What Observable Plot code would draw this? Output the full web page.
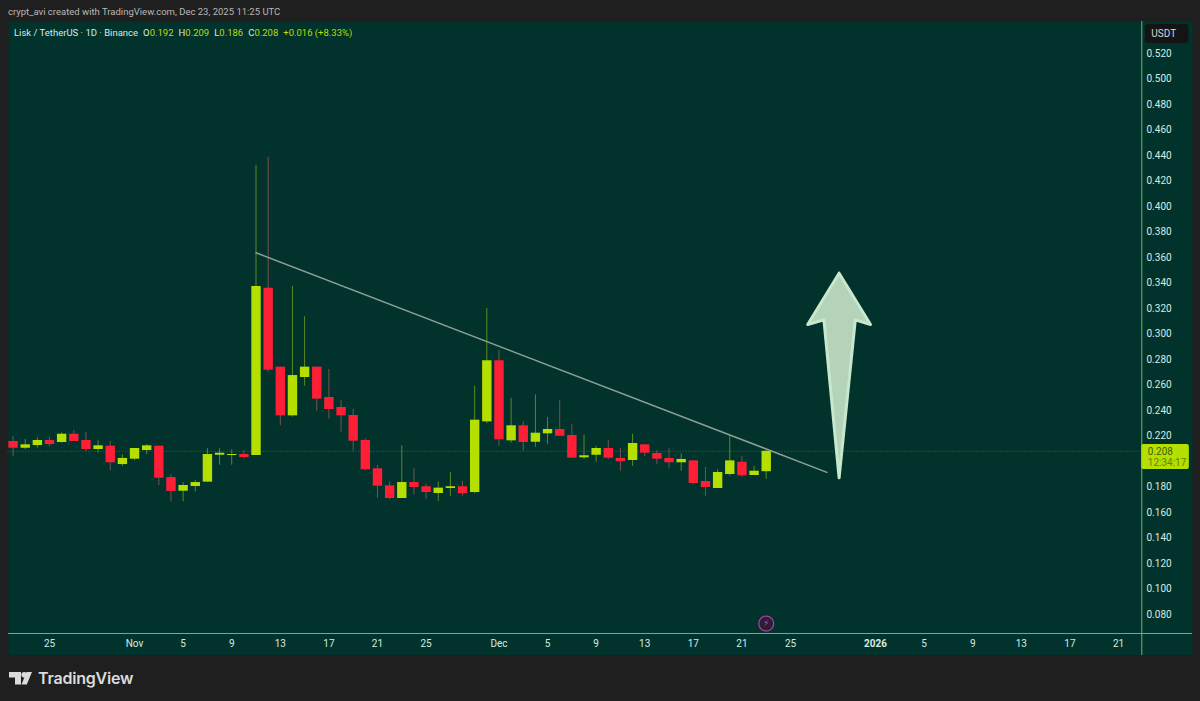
<!DOCTYPE html>
<html>
<head>
<meta charset="utf-8">
<script src="https://cdn.jsdelivr.net/npm/d3@7"></script>
<script src="https://cdn.jsdelivr.net/npm/@observablehq/plot@0.6"></script>
<style>
html,body{margin:0;padding:0;background:#1f1f1f;width:1200px;height:701px;overflow:hidden;font-family:Roboto,sans-serif}
#wrap{position:relative;width:1200px;height:701px}
#head{height:21px;line-height:24px;padding-left:8px;font-size:9.5px;color:#b8b8b8;box-sizing:border-box}
#legend{position:absolute;left:14px;top:27px;font-size:9.5px;line-height:12px;color:#d6ebe0;white-space:nowrap}
#legend span{margin-left:5px}
#legend b{font-weight:400;color:#b5df00}
#foot{position:absolute;left:9px;top:668px;display:flex;align-items:center;color:#dcdcdc;font:600 16px Inter,sans-serif;letter-spacing:-.2px}
#foot svg{margin-right:6px}
svg.plot{display:block}
</style>
</head>
<body>
<div id="wrap">
<div id="head">crypt_avi created with TradingView.com, Dec 23, 2025 11:25 UTC</div>
<div id="chart"></div>
<div id="legend">Lisk / TetherUS · 1D · Binance<span>O<b>0.192</b></span><span>H<b>0.209</b></span><span>L<b>0.186</b></span><span>C<b>0.208</b></span><span><b>+0.016 (+8.33%)</b></span></div>
<div id="foot"><svg width="23" height="13" viewBox="0 0 23 13"><path fill="#dcdcdc" d="M0 0H12V12.5H6V5.5H0Z"/><circle fill="#dcdcdc" cx="15.2" cy="2.8" r="2.8"/><path fill="#dcdcdc" d="M17.5 0H23L17.8 12.5H12.5Z"/></svg>TradingView</div>
</div>
<script>
const firstDay = new Date(Date.UTC(2025, 9, 22));
const dayAfterLast = new Date(Date.UTC(2025, 11, 24));

const opens = [.2157,.2104,.2125,.2165,.2149,.2214,.2165,.2094,.2120,.1976,.2018,.2086,.2120,.1874,.1767,.1804,.1838,.2049,.2047,.2055,.2047,.3359,.2740,.2358,.2659,.2740,.2502,.2424,.2361,.2165,.1943,.1809,.1710,.1835,.1802,.1749,.1788,.1802,.1757,.2311,.2790,.2162,.2280,.2151,.2217,.2251,.2204,.2029,.2049,.2102,.2024,.2008,.2131,.2063,.2024,.1990,.2005,.1843,.1788,.1898,.1994,.1890,.192];
const highs = [.2196,.2173,.2186,.2188,.2225,.2243,.2227,.2162,.2157,.2053,.2102,.2133,.2120,.1900,.1833,.1851,.2100,.2100,.2092,.2086,.4322,.4387,.2740,.3373,.3135,.2740,.2722,.2478,.2410,.2178,.1969,.1838,.2123,.1945,.1820,.1838,.1914,.1845,.2591,.3200,.2871,.2496,.2311,.2523,.2345,.2476,.2290,.2206,.2120,.2165,.2102,.2214,.2131,.2086,.2100,.2060,.2005,.1953,.1935,.2206,.2042,.1963,.209];
const lows = [.2039,.2092,.2104,.2115,.2144,.2157,.2076,.2065,.1929,.1961,.2005,.2055,.1812,.1684,.1684,.1762,.1838,.1971,.1971,.2021,.2047,.2700,.2280,.2347,.2591,.2394,.2332,.2230,.2081,.1927,.1712,.1700,.1710,.1736,.1704,.1686,.1728,.1728,.1747,.2296,.2118,.2144,.2081,.2112,.2133,.2198,.2026,.2016,.1994,.2016,.1924,.1963,.2039,.1974,.1943,.1924,.1817,.1728,.1788,.1885,.1874,.1890,.186];
const closes = [.2104,.2131,.2165,.2133,.2214,.2157,.2094,.2123,.1990,.2024,.2102,.2123,.1869,.1765,.1812,.1835,.2055,.2065,.2055,.2031,.3373,.2716,.2358,.2674,.2740,.2489,.2408,.2358,.2159,.1935,.1806,.1710,.1835,.1796,.1757,.1791,.1802,.1747,.2324,.2790,.2170,.2280,.2149,.2222,.2251,.2198,.2026,.2045,.2102,.2026,.1998,.2141,.2065,.2018,.1990,.2016,.1827,.1796,.1914,.2005,.1888,.1924,.208];

const priceTicks = [.52,.5,.48,.46,.44,.42,.4,.38,.36,.34,.32,.3,.28,.26,.24,.22,.18,.16,.14,.12,.1,.08];
const dateTicks = ["2025-10-25","2025-11-01","2025-11-05","2025-11-09","2025-11-13","2025-11-17","2025-11-21","2025-11-25","2025-12-01","2025-12-05","2025-12-09","2025-12-13","2025-12-17","2025-12-21","2025-12-25","2026-01-05","2026-01-09","2026-01-13","2026-01-17","2026-01-21"];
const dateLabels = ["25","Nov","5","9","13","17","21","25","Dec","5","9","13","17","21","25","5","9","13","17","21"];
const yearTick = "2026-01-01";
const lastPrice = 0.208;
const countdown = "12:34:17";

const trendDates = ["2025-11-11","2025-12-28"];
const trendPrices = [.3637,.1915];
const arrowDates = ["2025-12-29","2025-12-31T14:00Z","2025-12-30T08:00Z","2025-12-29","2025-12-27T18:00Z","2025-12-26T10:00Z","2025-12-29"];
const arrowPrices = [.3477,.3074,.3111,.1872,.3111,.3074,.3477];

const UP = "#b5df00", DOWN = "#fe1f37", UPW = "#5a8a20", DOWNW = "#7a5050";
const BG = "#01332c", SEP = "#78b06c", TXT = "#d6ebe0";

const dates = d3.utcDay.range(firstDay, dayAfterLast);
const candles = dates.map((date, i) => ({date, open: opens[i], high: highs[i], low: lows[i], close: closes[i]}));
const ticks = dateTicks.map(d => new Date(d));
const labelOf = new Map(ticks.map((d, i) => [+d, dateLabels[i]]));
const trend = trendDates.map((d, i) => ({date: new Date(d), price: trendPrices[i]}));
const arrow = arrowDates.map((d, i) => ({date: new Date(d), price: arrowPrices[i]}));
const up = d => d.close >= d.open;

const axisEdge = new Date("2026-01-22T22:00Z");

const chart = Plot.plot({
  width: 1200, height: 634,
  marginTop: 0, marginBottom: 0, marginLeft: 8, marginRight: 8,
  style: {background: "transparent", color: TXT, fontFamily: "Roboto, sans-serif", fontSize: "10px"},
  x: {type: "utc", domain: [new Date("2025-10-25"), new Date("2026-01-21")], range: [49, 1118], axis: null},
  y: {type: "linear", domain: [.08, .52], range: [593, 32], axis: null},
  marks: [
    Plot.frame({fill: BG, stroke: null}),
    Plot.ruleY([.0651], {stroke: SEP, strokeWidth: 1}),
    Plot.ruleX([axisEdge], {stroke: SEP, strokeWidth: 1}),
    Plot.ruleY([lastPrice], {x1: new Date("2025-10-21T14:00Z"), x2: axisEdge, stroke: "#3f6f30", strokeWidth: 1, strokeDasharray: "1 2"}),
    Plot.axisY(priceTicks, {anchor: "right", tickSize: 0, tickPadding: 0, dx: -46, tickFormat: d3.format(".3f"), label: null}),
    Plot.axisX(ticks, {anchor: "bottom", tickSize: 0, tickPadding: 0, dy: -16, tickFormat: d => labelOf.get(+d), label: null}),
    Plot.axisX([new Date(yearTick)], {anchor: "bottom", tickSize: 0, tickPadding: 0, dy: -16, tickFormat: d => String(d.getUTCFullYear()), fontWeight: "bold", label: null}),
    Plot.ruleX(candles.filter(up), {x: "date", y1: "low", y2: "high", stroke: UPW, strokeWidth: 1}),
    Plot.ruleX(candles.filter(d => !up(d)), {x: "date", y1: "low", y2: "high", stroke: DOWNW, strokeWidth: 1}),
    Plot.ruleX(candles.filter(up), {x: "date", y1: "open", y2: "close", stroke: UP, strokeWidth: 9.4}),
    Plot.ruleX(candles.filter(d => !up(d)), {x: "date", y1: "open", y2: "close", stroke: DOWN, strokeWidth: 9.4}),
    Plot.line(trend, {x: "date", y: "price", stroke: "#8d9f96", strokeWidth: 1.5}),
    Plot.line(arrow, {x: "date", y: "price", fill: "#b4d3b8", stroke: "#c8e8ce", strokeWidth: 3, strokeLinejoin: "round"}),
    Plot.rect([{}], {x1: axisEdge, x2: new Date("2026-01-26T20:00Z"), y1: .2133, y2: .1937, fill: UP, rx: 2}),
    Plot.text([lastPrice], {x: axisEdge, y: lastPrice, dx: 6, text: d => d3.format(".3f")(d), textAnchor: "start", fill: "#3f5f00"}),
    Plot.text([countdown], {x: axisEdge, y: lastPrice, dx: 6, dy: 11, text: d => d, textAnchor: "start", fill: "#5f8700"}),
    Plot.rect([{}], {x1: new Date("2026-01-23T05:00Z"), x2: new Date("2026-01-26T19:00Z"), y1: .5427, y2: .5278, fill: "#141414", rx: 3}),
    Plot.text(["USDT"], {x: new Date("2026-01-23T05:00Z"), y: .5352, dx: 6, text: d => d, textAnchor: "start", fill: "#d8d8d8"}),
    Plot.dot([{}], {x: new Date("2025-12-23"), y: .0729, r: 7.5, fill: "#2a1f33", stroke: "#a83f9f", strokeWidth: 1.3}),
    Plot.text(["⚡"], {x: new Date("2025-12-23"), y: .0729, text: d => d, fill: "#c04fb8", fontSize: 9, fontFamily: "DejaVu Sans"})
  ]
});
document.getElementById("chart").append(chart);
</script>
</body>
</html>
